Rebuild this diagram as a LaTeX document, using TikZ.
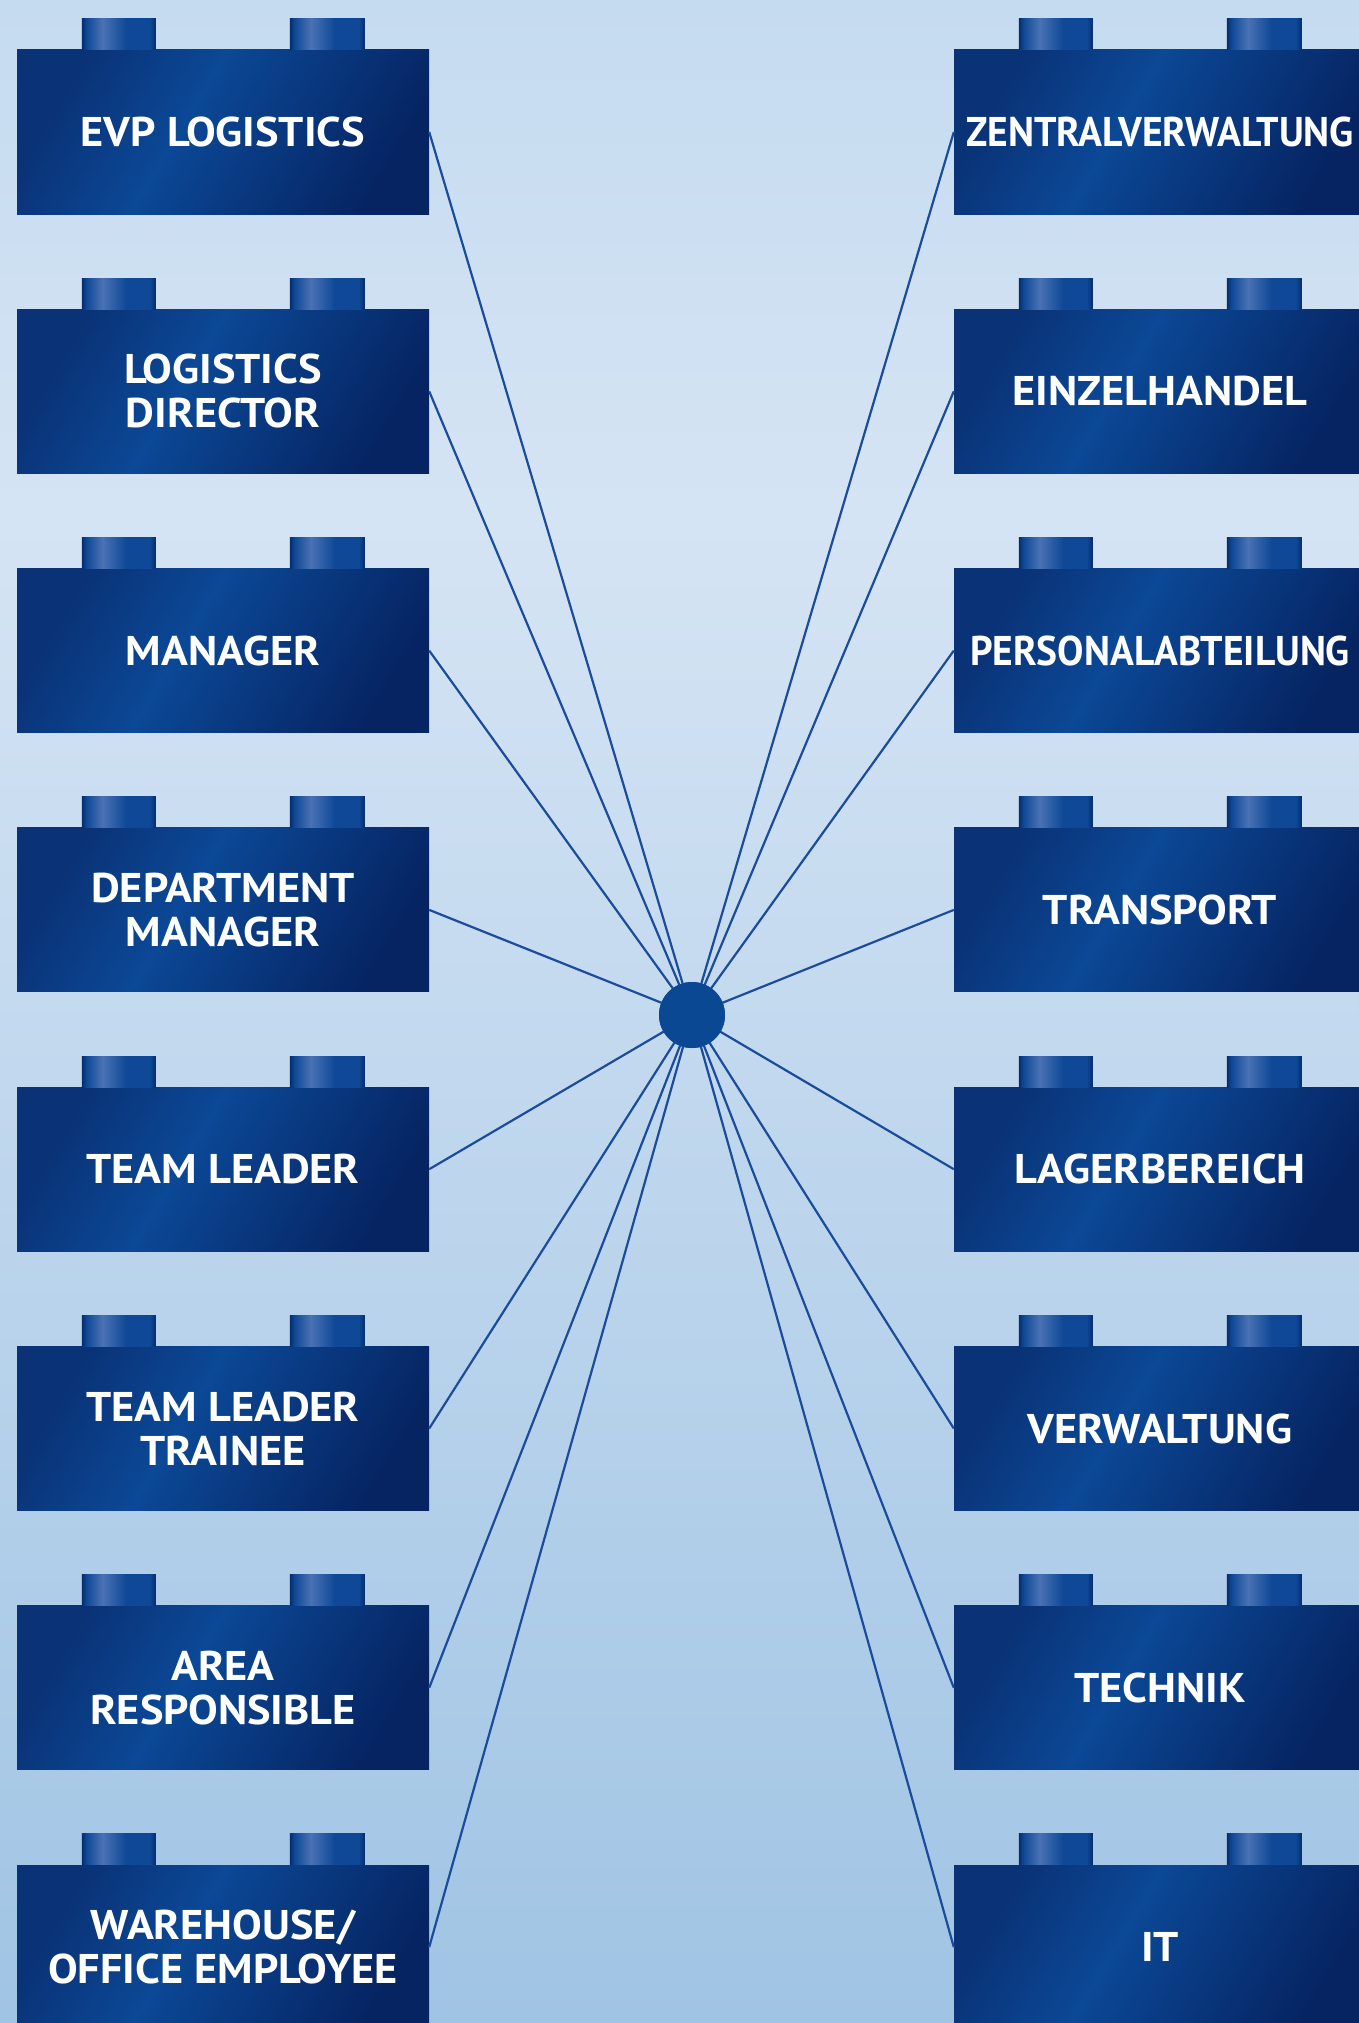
\documentclass[tikz,border=0pt]{standalone}
\usepackage{fontspec}
\usepackage{graphicx}
\setmainfont{PT Sans}[BoldFeatures={FakeStretch=1.07}]
\usetikzlibrary{calc}
\definecolor{bgA}{RGB}{197,219,240}
\definecolor{bgB}{RGB}{213,228,244}
\definecolor{bgC}{RGB}{160,196,228}
\definecolor{bkA}{RGB}{10,50,118}
\definecolor{bkB}{RGB}{11,72,150}
\definecolor{bkC}{RGB}{6,36,98}
\definecolor{stD}{RGB}{6,44,108}
\definecolor{stM}{RGB}{14,72,150}
\definecolor{stL}{RGB}{74,114,181}
\definecolor{hub}{RGB}{11,72,148}
\definecolor{conn}{RGB}{27,76,156}
\pgfdeclarehorizontalshading{brickshade}{100bp}{color(0bp)=(bkA); color(25bp)=(bkA); color(44bp)=(bkB); color(75bp)=(bkC); color(100bp)=(bkC)}
\pgfdeclarehorizontalshading{studshade}{100bp}{color(0bp)=(stD); color(25bp)=(stD); color(28bp)=(stM); color(39bp)=(stL); color(55bp)=(stM); color(71bp)=(stM); color(75bp)=(stD); color(100bp)=(stD)}
\newcommand{\fitw}[2]{\resizebox{#1}{\height}{#2}}
\tikzset{
  brick/.style={shade, shading=brickshade, shading angle=-31, minimum width=412pt, minimum height=164pt,
    inner sep=0pt, text=white, align=center, font=\bfseries\fontsize{41.5}{44}\selectfont},
  connector/.style={draw=conn, line width=2.2pt},
  hubnode/.style={circle, fill=hub, minimum size=66pt, inner sep=0pt}
}
\begin{document}
\begin{tikzpicture}[x=1pt, y=-1pt]
\useasboundingbox (0,0) rectangle (1359,2023);
\shade[top color=bgA, bottom color=bgB] (0,0) rectangle (1359,516);
\shade[top color=bgB, bottom color=bgC] (0,515) rectangle (1359,2023);
% nodes
\foreach \t [count=\i from 0] in {{EVP LOGISTICS},{LOGISTICS\\DIRECTOR},{MANAGER},{DEPARTMENT\\MANAGER},{TEAM LEADER},{TEAM LEADER\\TRAINEE},{AREA\\RESPONSIBLE},{WAREHOUSE/\\OFFICE EMPLOYEE}}{
  \node[brick] (L\i) at (223,{132+259.3*\i}) {\t};
}
\foreach \t [count=\i from 0] in {{\fitw{388pt}{ZENTRALVERWALTUNG}},EINZELHANDEL,{\fitw{380pt}{PERSONALABTEILUNG}},TRANSPORT,LAGERBEREICH,VERWALTUNG,TECHNIK,IT}{
  \node[brick] (R\i) at (1160,{132+259.3*\i}) {\t};
}
\node[hubnode] (c) at (692,1015) {};
% connectors
\foreach \i in {0,...,7}{
  \draw[connector] (L\i.east) -- (c.center);
  \draw[connector] (R\i.west) -- (c.center);
}
\node[hubnode] at (c) {};
% studs
\foreach \i in {0,...,7}{
  \foreach \s in {L,R}{
    \shade[shading=studshade] ($(\s\i.north west)+(65,-31)$) rectangle ($(\s\i.north west)+(139,0)$);
    \shade[shading=studshade] ($(\s\i.north west)+(273,-31)$) rectangle ($(\s\i.north west)+(348,0)$);
  }
}
\end{tikzpicture}
\end{document}
